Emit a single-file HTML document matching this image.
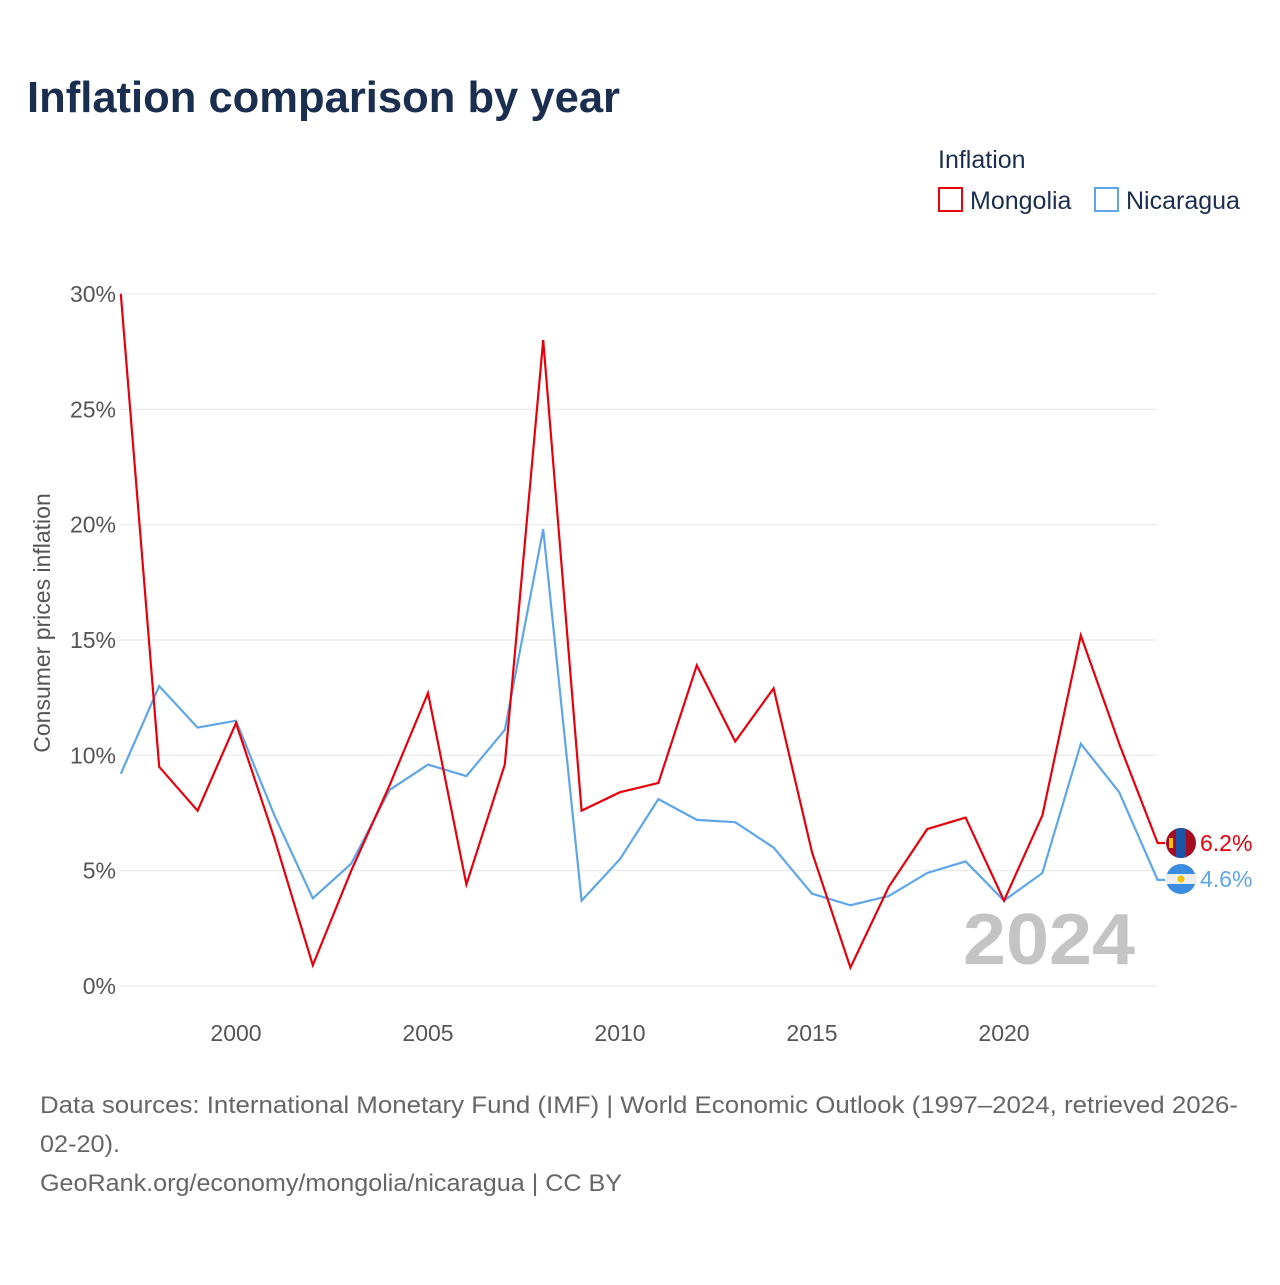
<!DOCTYPE html>
<html><head><meta charset="utf-8">
<style>
body{margin:0;background:#fff;font-family:"Liberation Sans",sans-serif;}
svg text{font-family:"Liberation Sans",sans-serif;}
</style></head>
<body>
<svg id="chart" width="1280" height="1280" xmlns="http://www.w3.org/2000/svg">
<rect width="1280" height="1280" fill="#fff"/>
<text x="27" y="112" font-size="44" font-weight="bold" fill="#1a2e50" textLength="593" lengthAdjust="spacingAndGlyphs">Inflation comparison by year</text>
<text x="938" y="168" font-size="25" fill="#1a2e50">Inflation</text>
<g>
<rect x="939" y="188" width="23" height="23" fill="#fff" stroke="#e8000b" stroke-width="2"/>
<text x="970" y="209" font-size="25" fill="#1a2e50">Mongolia</text></g>
<g>
<rect x="1095" y="188" width="23" height="23" fill="#fff" stroke="#5ea6ea" stroke-width="2"/>
<text x="1126" y="209" font-size="25" fill="#1a2e50">Nicaragua</text></g>
<text transform="translate(50,623) rotate(-90)" text-anchor="middle" font-size="23" fill="#555">Consumer prices inflation</text>
<g id="grid"></g><g id="xt"></g><g id="lines"></g>
<text x="963" y="964" font-size="72" font-weight="bold" fill="#c4c4c4" textLength="172" lengthAdjust="spacingAndGlyphs">2024</text>
<g>
<clipPath id="c1"><circle cx="1181" cy="843" r="15"/></clipPath>
<g clip-path="url(#c1)"><rect x="1166" y="828" width="30" height="30" fill="#a50d22"/><rect x="1176" y="828" width="10" height="30" fill="#1a55a8"/><rect x="1169" y="838" width="4" height="10" fill="#f5c000"/></g></g>
<g>
<clipPath id="c2"><circle cx="1181" cy="879" r="15"/></clipPath>
<g clip-path="url(#c2)"><rect x="1166" y="864" width="30" height="30" fill="#3b8be0"/><rect x="1166" y="874" width="30" height="10" fill="#eee"/><circle cx="1181" cy="879" r="3.5" fill="#f5c000"/></g></g>
<text x="1200" y="851" font-size="23" fill="#e8000b">6.2%</text>
<text x="1200" y="887" font-size="23" fill="#5ea6ea">4.6%</text>
<g font-size="24" fill="#666">
<text x="40" y="1113" textLength="1198" lengthAdjust="spacingAndGlyphs">Data sources: International Monetary Fund (IMF) | World Economic Outlook (1997–2024, retrieved 2026-</text>
<text x="40" y="1152" textLength="80" lengthAdjust="spacingAndGlyphs">02-20).</text>
<text x="40" y="1191" textLength="582" lengthAdjust="spacingAndGlyphs">GeoRank.org/economy/mongolia/nicaragua | CC BY</text>
</g>
</svg>
<script>
const years=[1997,1998,1999,2000,2001,2002,2003,2004,2005,2006,2007,2008,2009,2010,2011,2012,2013,2014,2015,2016,2017,2018,2019,2020,2021,2022,2023,2024];
const mongolia=[30,9.5,7.6,11.4,6.4,0.9,5.0,8.7,12.7,4.4,9.6,28.0,7.6,8.4,8.8,13.9,10.6,12.9,5.8,0.8,4.3,6.8,7.3,3.7,7.4,15.2,10.5,6.2];
const nicaragua=[9.2,13.0,11.2,11.5,7.4,3.8,5.3,8.5,9.6,9.1,11.1,19.8,3.7,5.5,8.1,7.2,7.1,6.0,4.0,3.5,3.9,4.9,5.4,3.7,4.9,10.5,8.4,4.6];
const yTicks=[0,5,10,15,20,25,30];
const xTicks=[2000,2005,2010,2015,2020];
const NS="http://www.w3.org/2000/svg";
const X=y=>120.8+(y-1997)*38.4, Y=v=>986-v*23.07;
function mk(t,a,p){const e=document.createElementNS(NS,t);for(const k in a)e.setAttribute(k,a[k]);document.getElementById(p).appendChild(e);return e;}
yTicks.forEach(v=>{
 const l=mk('line',{x1:120,x2:1157,y1:Y(v),y2:Y(v),stroke:'#e6e6e6','stroke-width':1},'grid');
 
 
 const t=mk('text',{x:116,y:Y(v)+8,'text-anchor':'end','font-size':23,fill:'#555'},'grid');t.textContent=v+'%';
 
 
});
xTicks.forEach(v=>{
 const t=mk('text',{x:X(v),y:1041,'text-anchor':'middle','font-size':23,fill:'#555'},'xt');t.textContent=v;
 
 
});
function line(d,c,n){
 let p=d.map((v,i)=>(i?'L':'M')+X(years[i])+','+Y(v)).join(' ');
 p+=' L1165,'+Y(d[d.length-1]);
 const e=mk('path',{d:p,fill:'none',stroke:c,'stroke-width':2.2,'stroke-linejoin':'miter'},'lines');
 
 
}
line(nicaragua,'#5ea6ea','nicaragua-line');
line(mongolia,'#e8000b','mongolia-line');
</script>
</body></html>
